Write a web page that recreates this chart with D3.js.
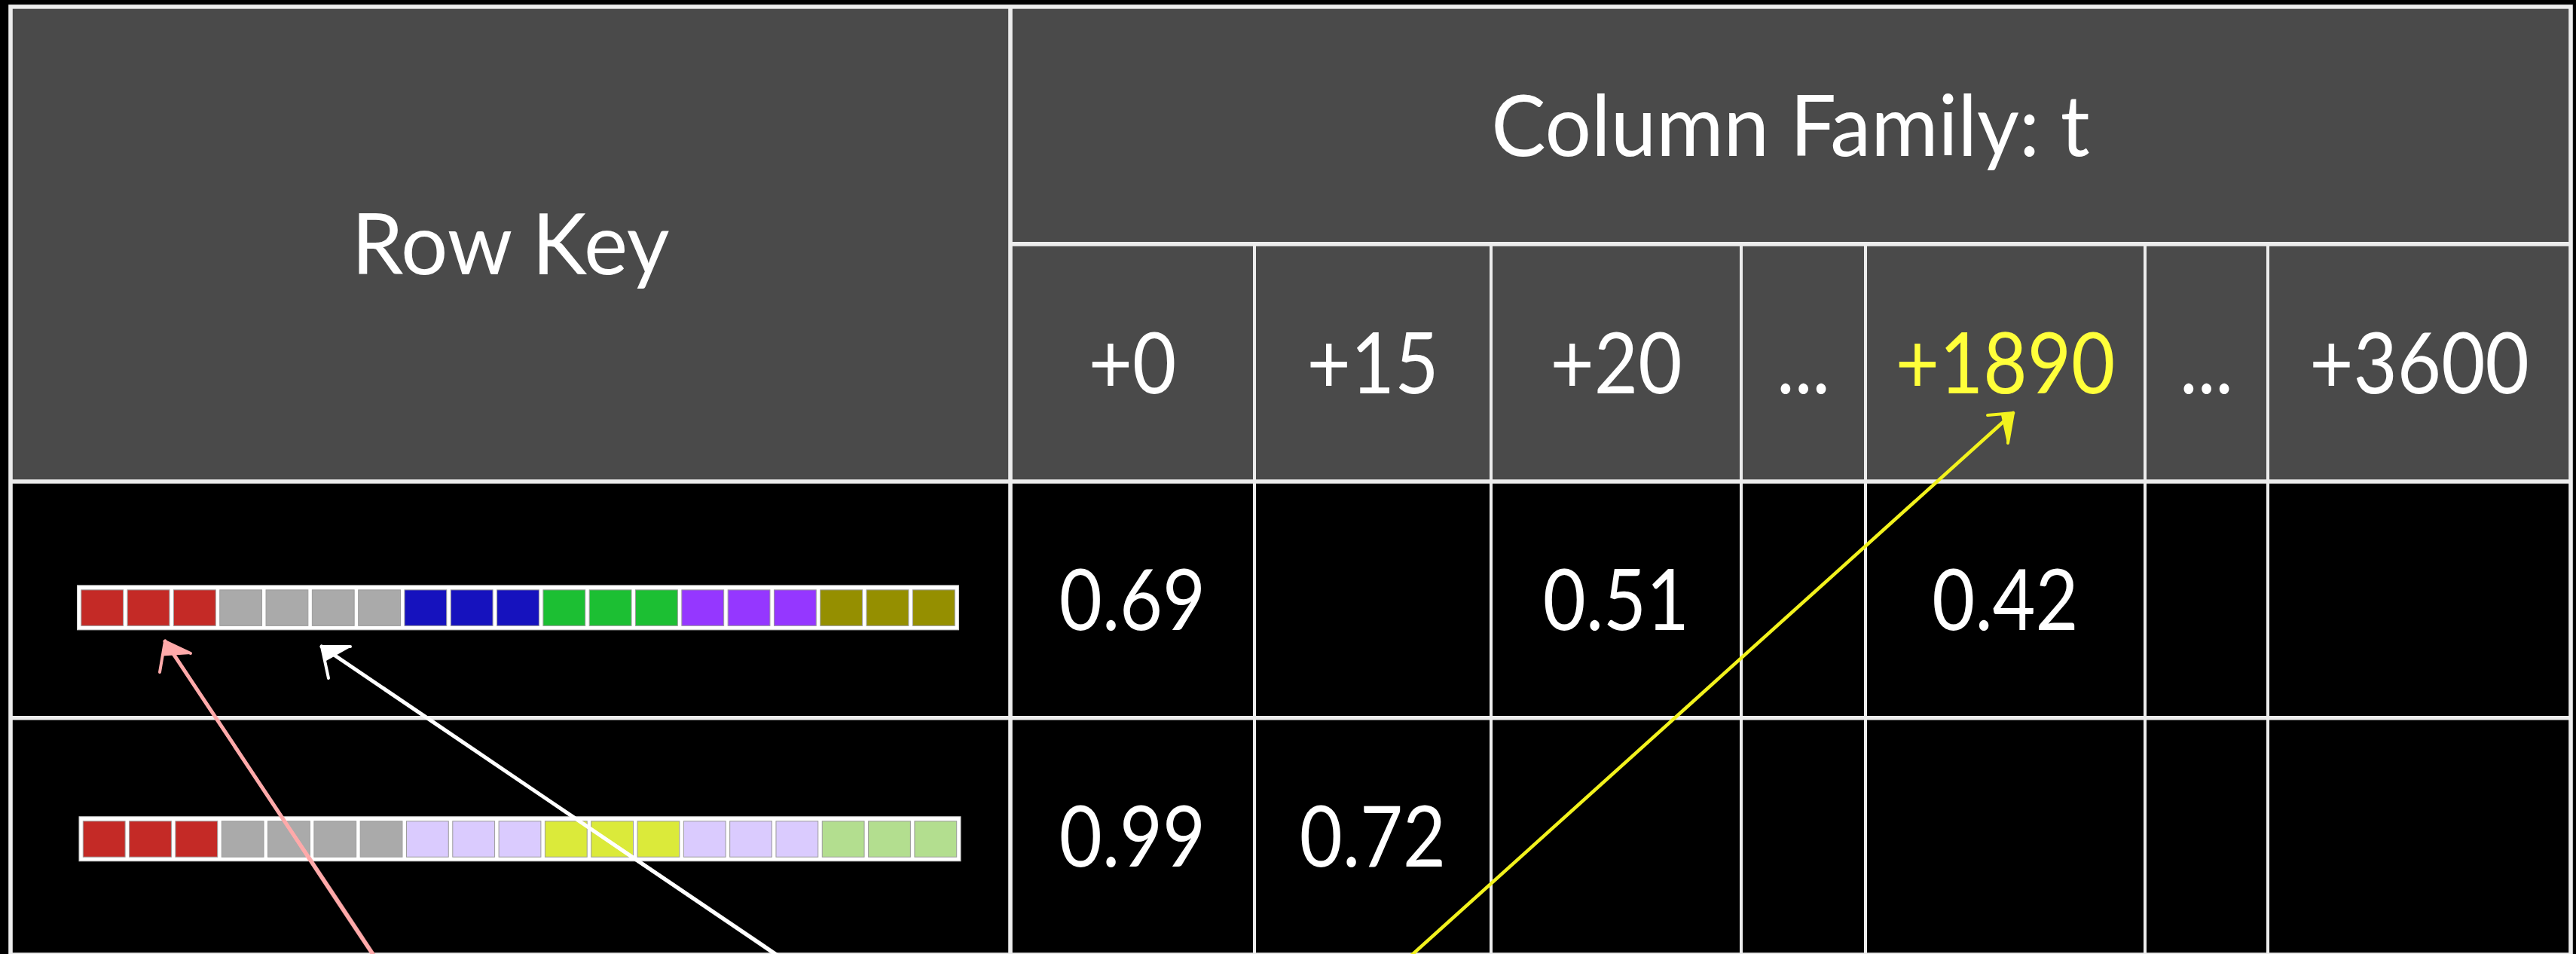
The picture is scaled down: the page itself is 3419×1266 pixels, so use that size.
<!DOCTYPE html>
<html>
<head>
<meta charset="utf-8">
<script src="https://cdn.jsdelivr.net/npm/d3@7"></script>
<style>
  html, body { margin: 0; padding: 0; background: #000; }
  svg { display: block; }
  text { font-family: Lato, "Open Sans", sans-serif; fill: #fff; }
</style>
</head>
<body>
<svg id="svg" width="3419" height="1266"></svg>
<script>
// table content
const rowKeyTitle = "Row Key";
const familyTitle = "Column Family: t";
const columnLabels = ["+0", "+15", "+20", "...", "+1890", "...", "+3600"];
const highlighted = "+1890";
const row1Values = [0.69, null, 0.51, null, 0.42, null, null];
const row2Values = [0.99, 0.72, null, null, null, null, null];
// the bytes of each row key, by field
const row1KeyCells = ["red", "red", "red", "gray", "gray", "gray", "gray",
                      "blue", "blue", "blue", "green", "green", "green",
                      "purple", "purple", "purple", "olive", "olive", "olive"];
const row2KeyCells = ["red", "red", "red", "gray", "gray", "gray", "gray",
                      "lavender", "lavender", "lavender", "yellow", "yellow", "yellow",
                      "lavender", "lavender", "lavender", "lime", "lime", "lime"];

const rows = [row1Values, row2Values];
const rowKeys = [row1KeyCells, row2KeyCells];

// layout
const colWidths = [1327, 324, 314, 332, 165, 371, 163, 402];   // row key column first
const rowLevels = [8.9, 323.9, 639, 952.7, 1267];
const lineColor = "#ececec";
const headerFill = "#4a4a4a";

const svg = d3.select("#svg");

const edges = [14].concat(Array.from(d3.cumsum(colWidths), d => 14 + d));
const x = d3.scaleLinear().domain(d3.range(edges.length)).range(edges);
const y = d3.scaleLinear().domain(d3.range(rowLevels.length)).range(rowLevels);

const keyColor = d3.scaleOrdinal()
  .domain(["red", "gray", "blue", "green", "purple", "olive", "lavender", "yellow", "lime"])
  .range(["#c42a26", "#aaaaaa", "#1612be", "#1cbf33", "#9537ff", "#958f00", "#dacbfe", "#dbea3a", "#b3de8f"]);

// header background
svg.append("rect")
  .attr("x", x(0)).attr("y", y(0))
  .attr("width", x(8) - x(0)).attr("height", y(2) - y(0))
  .style("fill", headerFill);

const baseline = 40.5;
const fs = 113;

// text narrowed a little, the original face is slimmer than Lato
function label(cx, cy, str, squeeze) {
  return svg.append("text")
    .attr("transform", "translate(" + cx + "," + (cy + baseline) + ") scale(" + squeeze + ",1)")
    .attr("text-anchor", "middle")
    .style("font-size", fs + "px")
    .text(str);
}

label((x(0) + x(1)) / 2, (y(0) + y(2)) / 2, rowKeyTitle, 0.975);
label((x(1) + x(8)) / 2, (y(0) + y(1)) / 2, familyTitle, 0.96);

columnLabels.forEach((d, i) => {
  label((x(i + 1) + x(i + 2)) / 2, (y(1) + y(2)) / 2, d, 0.89)
    .style("fill", d === highlighted ? "#ffff3a" : "#fff");
});

// values
const fmt = d3.format(".2f");
rows.forEach((vals, r) => {
  vals.forEach((v, i) => {
    if (v === null) return;
    label((x(i + 1) + x(i + 2)) / 2, (y(r + 2) + y(r + 3)) / 2, fmt(v), 0.87);
  });
});

// row key byte strips
const barNudge = [[88.5, 10.5], [91, 3.4]];
const barW = 1170, barH = 59, inset = 5.3;
rowKeys.forEach((cells, r) => {
  const bx = x(0) + barNudge[r][0];
  const by = (y(r + 2) + y(r + 3)) / 2 + barNudge[r][1] - barH / 2;
  const band = d3.scaleBand()
    .domain(d3.range(cells.length))
    .range([bx + inset, bx + barW - inset])
    .paddingInner(0.09);
  const g = svg.append("g");
  g.append("rect")
    .attr("x", bx).attr("y", by)
    .attr("width", barW).attr("height", barH)
    .style("fill", "#fff")
    .style("stroke", "#c8c8c8")
    .style("stroke-width", 1);
  g.selectAll("rect.cell")
    .data(cells)
    .join("rect")
    .attr("class", "cell")
    .attr("x", (d, i) => band(i))
    .attr("y", by + 6)
    .attr("width", band.bandwidth())
    .attr("height", barH - 11.5)
    .style("fill", d => keyColor(d))
    .style("stroke", "#9c9c9c")
    .style("stroke-width", 1);
});

// grid lines
const grid = svg.append("g")
  .style("stroke", lineColor)
  .style("stroke-width", 5.6)
  .style("fill", "none");
grid.append("rect")
  .attr("x", x(0)).attr("y", y(0))
  .attr("width", x(8) - x(0)).attr("height", y(4) - y(0));
grid.append("line")
  .attr("x1", x(1)).attr("x2", x(8)).attr("y1", y(1)).attr("y2", y(1));
[2, 3].forEach(k => grid.append("line")
  .attr("x1", x(0)).attr("x2", x(8)).attr("y1", y(k)).attr("y2", y(k)));
grid.append("line")
  .attr("x1", x(1)).attr("x2", x(1)).attr("y1", y(0)).attr("y2", y(4));
d3.range(2, 8).forEach(k => grid.append("line")
  .attr("x1", x(k)).attr("x2", x(k)).attr("y1", y(1)).attr("y2", y(4))
  .style("stroke-width", 4));

// hand drawn arrows
const arrows = [
  {color: "#ffaaaa", tail: [496, 1268], tip: [219, 851], barbA: [212, 892], barbB: [253, 867], w: 5},
  {color: "#ffffff", tail: [1032, 1268], tip: [427, 858], barbA: [436, 900], barbB: [465, 858], w: 5},
  {color: "#f2f21e", tail: [1873, 1268], tip: [2672, 548], barbA: [2638, 551], barbB: [2665, 588], w: 4.5}
];
const line = d3.line().curve(d3.curveBasis);
arrows.forEach(a => {
  const g = svg.append("g").style("stroke", a.color).style("fill", a.color)
    .style("stroke-linecap", "round").style("stroke-linejoin", "round");
  [[0, 0, 1], [1.5, -1, 0.7], [-1.2, 1.2, 0.6]].forEach(([dx, dy, op]) => {
    g.append("path")
      .attr("d", line([
        [a.tail[0] + dx, a.tail[1] + dy],
        [(a.tail[0] * 2 + a.tip[0]) / 3 + dx * 1.5, (a.tail[1] * 2 + a.tip[1]) / 3 + dy],
        [(a.tail[0] + a.tip[0] * 2) / 3 - dx, (a.tail[1] + a.tip[1] * 2) / 3 - dy],
        [a.tip[0] + dx * 0.3, a.tip[1] + dy * 0.3]
      ]))
      .style("fill", "none")
      .style("stroke-width", op === 1 ? a.w : a.w * 0.45)
      .style("stroke-opacity", op);
  });
  // head: two strokes out of the tip and a small wedge toward barb B
  g.append("path")
    .attr("d", "M" + a.barbA + "L" + a.tip + "L" + a.barbB)
    .style("fill", "none")
    .style("stroke-width", 4);
  const near = [a.tip[0] + (a.barbA[0] - a.tip[0]) * 0.45, a.tip[1] + (a.barbA[1] - a.tip[1]) * 0.45];
  g.append("path")
    .attr("d", "M" + a.tip + "L" + a.barbB + "L" + near + "Z")
    .style("stroke-width", 2);
});
</script>
</body>
</html>
